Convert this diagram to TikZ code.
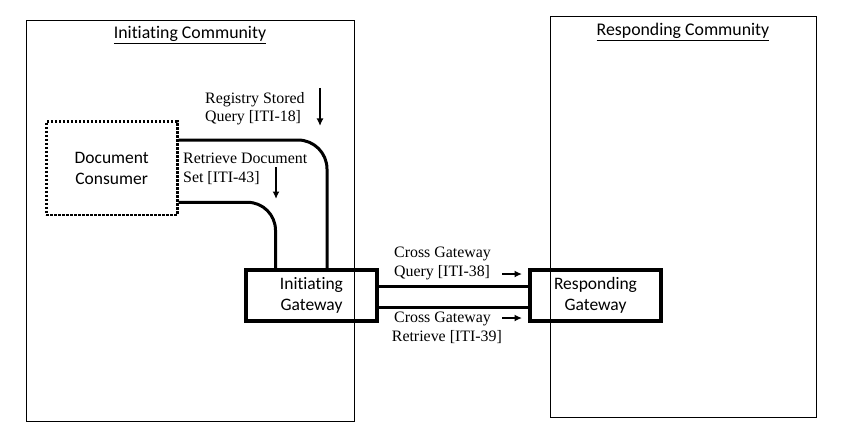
\documentclass[tikz,border=0pt]{standalone}
\usepackage{fontspec}
\setmainfont{Liberation Serif}
\newfontfamily\boxfont[Ligatures={NoCommon,NoRare,NoContextual}]{Carlito}
\usetikzlibrary{calc,positioning,arrows.meta}

\tikzset{
  actor/.style={draw,line width=3.1pt,minimum width=131pt,minimum height=51pt,align=center,inner sep=0pt,
    font=\boxfont\fontsize{17.5}{20.5}\selectfont},
  conn/.style={line width=3pt},
  flow/.style={line width=2.2pt,-{Latex[length=7.5pt,width=7pt]}},
  txn/.style={align=left,anchor=west,inner sep=0pt,font=\fontsize{15.9}{18.4}\selectfont},
  title/.style={font=\boxfont\fontsize{17.8}{22}\selectfont}
}

\begin{document}
\begin{tikzpicture}[x=1pt,y=-1pt]
      \useasboundingbox (0,0) rectangle (845,433);
      \draw[line width=1pt] (26,21) rectangle (354,421);
      \draw[line width=1pt] (550,17) rectangle (816,417);
      \node[title] (initcomm) at (190,35) {\underline{Initiating Community}};
      \node[title] (respcomm) at (683,32) {\underline{Responding Community}};
      \node[actor,line width=2.6pt,dash pattern=on 2.6pt off 1.4pt,minimum height=93pt] (consumer) at (111.7,168.3) {Document\\Consumer};
      \node[actor] (initgw) at (311.5,295.5) {Initiating\\Gateway};
      \node[actor] (respgw) at (595.5,295.5) {Responding\\Gateway};
      \draw[conn,rounded corners=29pt] ([yshift=28.3pt]consumer.east) -| ([xshift=15.5pt]initgw.north);
      \draw[conn,rounded corners=28pt] ([yshift=-34pt]consumer.east) -| ([xshift=-36pt]initgw.north);
      \draw[conn] ([yshift=9.5pt]initgw.east) -- ([yshift=9.5pt]respgw.west);
      \draw[conn] ([yshift=-12.2pt]initgw.east) -- ([yshift=-12.2pt]respgw.west);
      \node[txn] (rsq) at (205,108.8) {Registry Stored\\Query [ITI-18]};
      \node[txn] (rds) at (183,168.6) {Retrieve Document\\Set [ITI-43]};
      \node[txn] (xgq) at (394,263.6) {Cross Gateway\\Query [ITI-38]};
      \node[txn] (xgr) at (391.7,327.8) {\hspace*{2.3pt}Cross Gateway\\Retrieve [ITI-39]};
      \coordinate (rsqa) at (320,88);
      \coordinate (rsqb) at (320,126);
      \coordinate (rdsa) at (276,167);
      \coordinate (rdsb) at (276,199);
      \coordinate (xgqa) at (502,274);
      \coordinate (xgqb) at (522,274);
      \coordinate (xgra) at (502,318);
      \coordinate (xgrb) at (522,318);
      \draw[flow] (rsqa) -- (rsqb);
      \draw[flow] (rdsa) -- (rdsb);
      \draw[flow] (xgqa) -- (xgqb);
      \draw[flow] (xgra) -- (xgrb);
    \end{tikzpicture}
\end{document}
